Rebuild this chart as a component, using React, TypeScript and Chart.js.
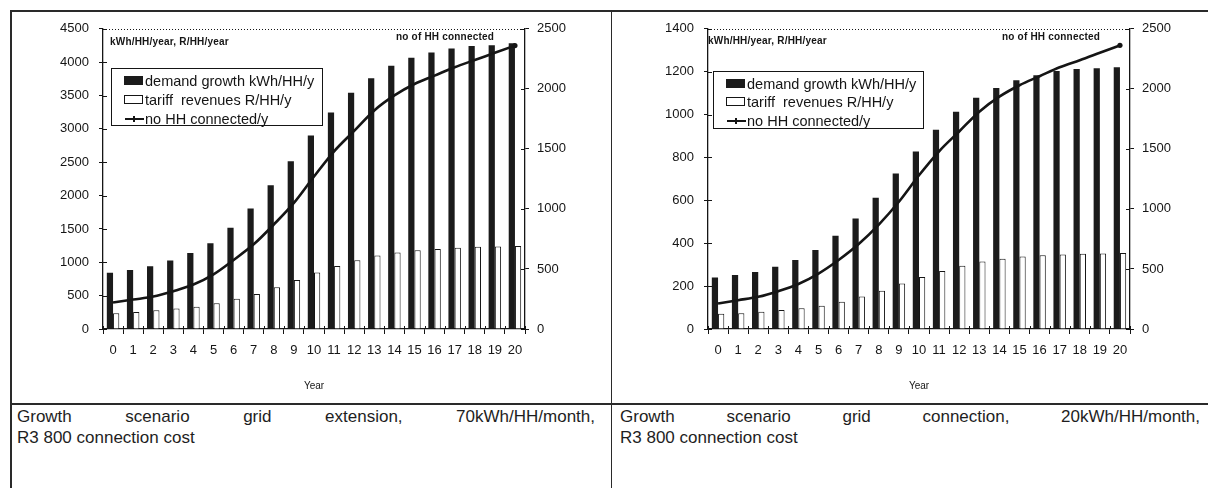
import React, { useEffect, useRef } from 'react';
import { Chart, registerables } from 'chart.js';

Chart.register(...registerables);

// ---------------- data ----------------
const years = ['0', '1', '2', '3', '4', '5', '6', '7', '8', '9', '10', '11', '12', '13', '14', '15', '16', '17', '18', '19', '20'];

const leftDemand = [842, 885, 942, 1026, 1139, 1287, 1516, 1805, 2153, 2514, 2900, 3246, 3542, 3759, 3947, 4065, 4144, 4203, 4243, 4253, 4282];
const leftTariff = [237, 256, 281, 306, 335, 385, 454, 523, 627, 734, 848, 946, 1031, 1100, 1145, 1179, 1199, 1219, 1234, 1238, 1243];
const leftConnected = [220, 245, 270, 315, 370, 455, 575, 705, 870, 1050, 1270, 1480, 1650, 1820, 1945, 2040, 2110, 2180, 2240, 2300, 2360];

const rightDemand = [240, 252, 266, 290, 322, 368, 435, 515, 612, 725, 828, 929, 1013, 1078, 1124, 1160, 1183, 1203, 1213, 1216, 1221];
const rightTariff = [71, 74, 80, 89, 97, 108, 127, 151, 178, 212, 243, 271, 295, 315, 328, 338, 344, 348, 351, 352, 354];
const rightConnected = [212, 240, 268, 315, 375, 462, 575, 708, 870, 1060, 1280, 1480, 1645, 1810, 1935, 2030, 2105, 2180, 2238, 2300, 2362];

const leftAxisMaxA = 4500;
const leftAxisStepA = 500;
const leftAxisMaxB = 1400;
const leftAxisStepB = 200;
const rightAxisMax = 2500;
const rightAxisStep = 500;

const legendLabels = ['demand growth kWh/HH/y', 'tariff\u00a0\u00a0revenues R/HH/y', 'no HH connected/y'];
const unitsNote = 'kWh/HH/year, R/HH/year';
const connectedNote = 'no of HH connected';
const xTitle = 'Year';
const captionA = ['Growth scenario grid extension, 70kWh/HH/month,', 'R3 800 connection cost'];
const captionB = ['Growth scenario grid connection, 20kWh/HH/month,', 'R3 800 connection cost'];

// ---------------- styling ----------------
const FONT = '"Liberation Sans", Arial, Helvetica, sans-serif';
const INK = '#151515';

const plainTick = (v: any) => String(v);

const axisExtras = {
  id: 'axisExtras',
  afterDraw(chart: any) {
    const { ctx, chartArea, scales } = chart;
    ctx.save();
    ctx.strokeStyle = INK;
    ctx.lineWidth = 1;
    // dotted top frame
    ctx.setLineDash([1, 2]);
    ctx.beginPath();
    ctx.moveTo(chartArea.left, Math.round(chartArea.top) + 0.5);
    ctx.lineTo(chartArea.right, Math.round(chartArea.top) + 0.5);
    ctx.stroke();
    ctx.setLineDash([]);
    // inward halves of the tick marks
    ctx.beginPath();
    for (const t of scales.y.ticks) {
      const p = Math.round(scales.y.getPixelForValue(t.value)) + 0.5;
      ctx.moveTo(chartArea.left, p);
      ctx.lineTo(chartArea.left + 4, p);
    }
    for (const t of scales.y1.ticks) {
      const p = Math.round(scales.y1.getPixelForValue(t.value)) + 0.5;
      ctx.moveTo(chartArea.right - 4, p);
      ctx.lineTo(chartArea.right, p);
    }
    const n = chart.data.labels.length;
    const w = scales.x.getPixelForValue(1) - scales.x.getPixelForValue(0);
    for (let i = 0; i <= n; i++) {
      const p = Math.round(scales.x.getPixelForValue(i) - w / 2) + 0.5;
      ctx.moveTo(p, chartArea.bottom - 3);
      ctx.lineTo(p, chartArea.bottom);
    }
    ctx.stroke();
    ctx.restore();
  },
};

type PanelProps = {
  demand: number[];
  tariff: number[];
  connected: number[];
  leftMax: number;
  leftStep: number;
  left: number;
  width: number;
  yLeftWidth: number;
};

function ChartPanel({ demand, tariff, connected, leftMax, leftStep, left, width, yLeftWidth }: PanelProps) {
  const ref = useRef<HTMLCanvasElement>(null);
  useEffect(() => {
    const last = connected.length - 1;
    const chart = new Chart(ref.current as HTMLCanvasElement, {
      type: 'bar',
      data: {
        labels: years,
        datasets: [
          {
            type: 'line',
            label: legendLabels[2],
            data: connected,
            yAxisID: 'y1',
            borderColor: INK,
            borderWidth: 2.6,
            cubicInterpolationMode: 'monotone',
            pointRadius: (c: any) => (c.dataIndex === last ? 2.6 : 0),
            pointBackgroundColor: INK,
            pointBorderWidth: 0,
            order: 0,
          } as any,
          {
            label: legendLabels[0],
            data: demand,
            yAxisID: 'y',
            backgroundColor: '#1b1b1b',
            borderWidth: 0,
            categoryPercentage: 0.62,
            barPercentage: 1,
            order: 1,
          },
          {
            label: legendLabels[1],
            data: tariff,
            yAxisID: 'y',
            backgroundColor: '#ffffff',
            borderColor: INK,
            borderWidth: 1,
            categoryPercentage: 0.62,
            barPercentage: 1,
            order: 2,
          },
        ],
      },
      options: {
        animation: false,
        responsive: false,
        maintainAspectRatio: false,
        layout: { padding: { top: 15, left: 0, right: 0, bottom: 0 } },
        plugins: { legend: { display: false }, tooltip: { enabled: false } },
        scales: {
          x: {
            offset: true,
            grid: { display: true, drawOnChartArea: false, drawTicks: true, tickLength: 5, color: INK, offset: true },
            border: { display: true, color: INK, width: 1.3 },
            ticks: { font: { family: FONT, size: 13 }, color: INK, padding: 9, maxRotation: 0, autoSkip: false },
            title: { display: true, text: xTitle, font: { family: FONT, size: 10 }, color: INK, padding: { top: 0, bottom: 11 } },
            afterFit: (s: any) => { s.height = 74; },
          },
          y: {
            position: 'left',
            min: 0,
            max: leftMax,
            ticks: { stepSize: leftStep, font: { family: FONT, size: 13 }, color: INK, padding: 10, callback: plainTick },
            grid: { display: true, drawOnChartArea: false, drawTicks: true, tickLength: 4, color: INK },
            border: { display: true, color: INK, width: 1.3 },
            afterFit: (s: any) => { s.width = yLeftWidth; },
          },
          y1: {
            position: 'right',
            min: 0,
            max: rightAxisMax,
            ticks: { stepSize: rightAxisStep, font: { family: FONT, size: 13 }, color: INK, padding: 8, callback: plainTick },
            grid: { display: true, drawOnChartArea: false, drawTicks: true, tickLength: 4, color: INK },
            border: { display: true, color: INK, width: 1.3 },
            afterFit: (s: any) => { s.width = 77; },
          },
        },
      } as any,
      plugins: [axisExtras],
    });
    return () => chart.destroy();
  }, []);
  return (
    <canvas
      ref={ref}
      width={width}
      height={392}
      style={{ position: 'absolute', left, top: 11, width, height: 392 }}
    />
  );
}

function Legend({ left, top, width, height, rows }: { left: number; top: number; width: number; height: number; rows: number[] }) {
  const textStyle: React.CSSProperties = {
    position: 'absolute',
    left: 33,
    fontFamily: FONT,
    fontSize: 14.5,
    lineHeight: '18px',
    color: INK,
    whiteSpace: 'nowrap',
  };
  return (
    <div style={{ position: 'absolute', left, top, width, height, border: `1px solid ${INK}`, boxSizing: 'border-box', background: 'transparent' }}>
      <div style={{ position: 'absolute', left: 12, top: rows[0] - 5, width: 19, height: 9, background: '#1b1b1b' }} />
      <div style={{ ...textStyle, top: rows[0] - 9 }}>{legendLabels[0]}</div>
      <div style={{ position: 'absolute', left: 12, top: rows[1] - 5, width: 19, height: 9, border: `1px solid ${INK}`, boxSizing: 'border-box', background: '#fff' }} />
      <div style={{ ...textStyle, top: rows[1] - 9 }}>{legendLabels[1]}</div>
      <div style={{ position: 'absolute', left: 13, top: rows[2] - 1, width: 19, height: 2, background: INK }} />
      <div style={{ position: 'absolute', left: 21, top: rows[2] - 3, width: 2, height: 6, background: INK }} />
      <div style={{ ...textStyle, top: rows[2] - 9 }}>{legendLabels[2]}</div>
    </div>
  );
}

function Note({ left, top, text, size }: { left: number; top: number; text: string; size: number }) {
  return (
    <div
      style={{
        position: 'absolute',
        left,
        top,
        fontFamily: FONT,
        fontWeight: 'bold',
        fontSize: size,
        lineHeight: '12px',
        color: INK,
        whiteSpace: 'nowrap',
        letterSpacing: '0.2px',
      }}
    >
      {text}
    </div>
  );
}

function Caption({ left, width, lines }: { left: number; width: number; lines: string[] }) {
  const base: React.CSSProperties = {
    position: 'absolute',
    left,
    width,
    fontFamily: FONT,
    fontSize: 17,
    lineHeight: '21px',
    color: '#1e1e1e',
    whiteSpace: 'nowrap',
  };
  return (
    <>
      <div style={{ ...base, top: 406, textAlign: 'justify', textAlignLast: 'justify', whiteSpace: 'normal' }}>{lines[0]}</div>
      <div style={{ ...base, top: 427 }}>{lines[1]}</div>
    </>
  );
}

export default function App() {
  return (
    <div style={{ position: 'fixed', left: 0, top: 0, width: 1208, height: 488, background: '#fff', overflow: 'hidden' }}>
      {/* table rules */}
      <div style={{ position: 'absolute', left: 10, top: 10, width: 1198, height: 2, background: '#2a2a2a' }} />
      <div style={{ position: 'absolute', left: 10, top: 10, width: 2, height: 478, background: '#2a2a2a' }} />
      <div style={{ position: 'absolute', left: 611, top: 10, width: 1, height: 478, background: '#2a2a2a' }} />
      <div style={{ position: 'absolute', left: 10, top: 403, width: 1198, height: 2, background: '#2a2a2a' }} />

      <ChartPanel demand={leftDemand} tariff={leftTariff} connected={leftConnected} leftMax={leftAxisMaxA} leftStep={leftAxisStepA} left={12} width={590} yLeftWidth={91} />
      <ChartPanel demand={rightDemand} tariff={rightTariff} connected={rightConnected} leftMax={leftAxisMaxB} leftStep={leftAxisStepB} left={613} width={594} yLeftWidth={95} />

      <Note left={110} top={36} text={unitsNote} size={10} />
      <Note left={396} top={31} text={connectedNote} size={10} />
      <Note left={708} top={35} text={unitsNote} size={10} />
      <Note left={1002} top={31} text={connectedNote} size={10} />

      <Legend left={111} top={68} width={212} height={58} rows={[12, 31, 50]} />
      <Legend left={713} top={71} width={211} height={58} rows={[12, 30, 49]} />

      <Caption left={17} width={578} lines={captionA} />
      <Caption left={620} width={580} lines={captionB} />
    </div>
  );
}
